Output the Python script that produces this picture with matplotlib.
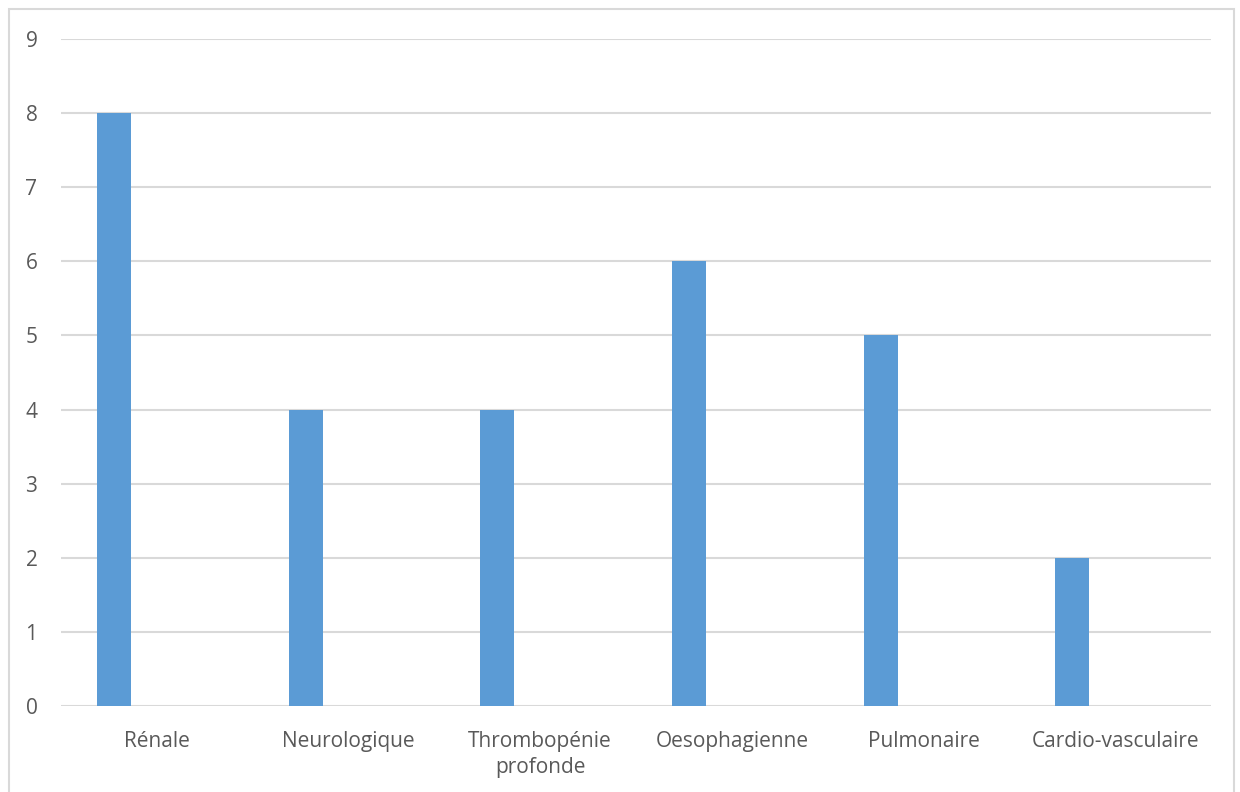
import matplotlib.pyplot as plt
import numpy as np
from matplotlib.patches import Rectangle

categories = ['Rénale', 'Neurologique', 'Thrombopénie\nprofonde',
              'Oesophagienne', 'Pulmonaire', 'Cardio-vasculaire']
values = [8, 4, 4, 6, 5, 2]

plt.rcParams['font.family'] = ['Open Sans', 'DejaVu Sans']

fig = plt.figure(figsize=(12.4, 7.92), dpi=100)
ax = fig.add_axes([0.0492, 0.1086, 0.9274, 0.8422])

# chart frame
fig.patches.append(Rectangle((0.0073, -0.1), 0.9877, 1.0886, transform=fig.transFigure,
                             fill=False, edgecolor='#d9d9d9', linewidth=1.5))

x = np.arange(len(categories))
ax.bar(x - 0.223, values, width=0.177, color='#5b9bd5', zorder=3)

ax.set_xlim(-0.5, len(categories) - 0.5)
ax.set_ylim(0, 9)
ax.set_yticks(range(0, 10))
ax.set_xticks(x)
ax.set_xticklabels(categories, linespacing=1.3)

ax.grid(axis='y', color='#d9d9d9', linewidth=1.5, zorder=0)
for s in ax.spines.values():
    s.set_visible(False)
ax.tick_params(axis='both', length=0, labelsize=15, labelcolor='#595959')
ax.tick_params(axis='y', pad=17)
ax.tick_params(axis='x', pad=18)

fig.savefig('out.png', dpi=100)
